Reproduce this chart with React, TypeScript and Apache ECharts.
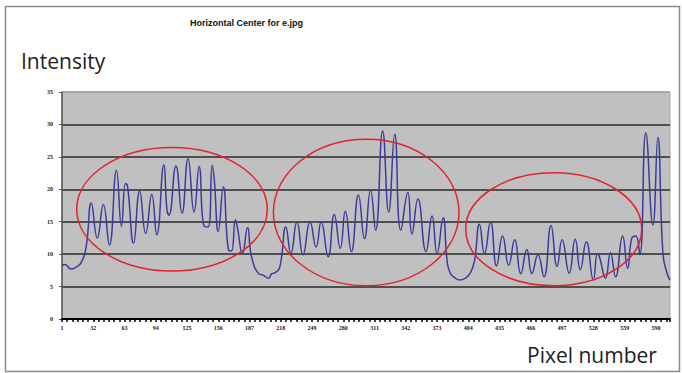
import React, { useEffect, useRef } from 'react';
import * as echarts from 'echarts';

const chartTitle = 'Horizontal Center for e.jpg';
const yAxisTitle = 'Intensity';
const xAxisTitle = 'Pixel number';

const xTickLabels = [1, 32, 63, 94, 125, 156, 187, 218, 249, 280, 311, 342, 373, 404, 435, 466, 497, 528, 559, 590];

const pixelNumbers = [
  1, 4, 10, 15, 20, 25, 30, 36, 42, 48, 55, 60, 64, 66, 72, 78, 84, 90, 95, 102,
  105, 107, 114, 120, 126, 132, 137, 142, 146, 150, 152, 156, 161, 166, 169, 173, 175, 180, 185, 189,
  196, 200, 206, 209, 212, 217, 223, 228, 234, 240, 247, 253, 258, 265, 271, 277, 282, 288, 295, 301,
  307, 312, 319, 325, 331, 337, 344, 348, 354, 362, 368, 373, 379, 383, 386, 391, 396, 401, 406, 410,
  415, 420, 426, 432, 438, 444, 450, 456, 462, 467, 473, 479, 486, 492, 497, 504, 510, 515, 521, 528,
  532, 534, 540, 545, 550, 557, 562, 566, 570, 574, 580, 587, 592, 597, 601, 604,
];

const intensity = [
  8.2, 8.4, 7.7, 8.0, 8.7, 11.2, 17.9, 12.5, 17.6, 11.4, 22.9, 14.3, 20.9, 20.5, 11.7, 19.7, 13.2, 19.2, 13.0, 23.8,
  17.0, 16.0, 23.6, 16.3, 24.7, 16.5, 23.5, 14.3, 14.2, 23.7, 21.5, 13.5, 20.4, 10.7, 10.5, 15.3, 14.0, 10.1, 14.1, 9.6,
  7.0, 6.8, 6.3, 7.0, 7.1, 8.0, 14.2, 10.1, 15.0, 9.9, 15.0, 11.1, 15.0, 9.6, 16.1, 10.9, 16.6, 10.4, 19.1, 12.4,
  19.9, 13.7, 29.0, 16.5, 28.5, 13.7, 19.5, 13.1, 18.5, 10.4, 15.9, 10.1, 15.6, 8.9, 7.1, 6.3, 6.0, 6.3, 7.1, 8.9,
  14.6, 10.1, 15.0, 8.2, 12.8, 8.3, 12.2, 7.0, 10.7, 7.0, 9.9, 6.5, 14.4, 8.1, 12.2, 7.1, 12.3, 7.6, 11.9, 6.0,
  10.1, 9.6, 6.3, 10.2, 6.5, 12.8, 7.8, 12.4, 12.8, 9.9, 28.7, 14.5, 28.0, 10.1, 7.1, 6.0,
];

export default function App() {
  const ref = useRef<HTMLDivElement>(null);

  useEffect(() => {
    if (!ref.current) return;
    const chart = echarts.init(ref.current, null, { renderer: 'svg' });
    const tickStep = xTickLabels[1] - xTickLabels[0];
    chart.setOption({
      animation: false,
      backgroundColor: '#ffffff',
      title: {
        text: chartTitle,
        left: 185,
        top: 13,
        textStyle: { fontFamily: 'Liberation Sans', fontWeight: 'bold', fontSize: 9, color: '#111' },
      },
      grid: {
        left: 62,
        top: 92,
        right: 12,
        bottom: 54,
        show: true,
        backgroundColor: '#c0c0c0',
        borderColor: '#a8a8a8',
        borderWidth: 1,
      },
      xAxis: {
        type: 'value',
        min: 0,
        max: pixelNumbers[pixelNumbers.length - 1] - 1,
        interval: tickStep,
        splitLine: { show: false },
        axisLine: { show: true, lineStyle: { color: '#000', width: 2 } },
        axisTick: { show: true, length: 3, lineStyle: { color: '#000', width: 1.5 } },
        minorTick: { show: true, splitNumber: 6, length: 3, lineStyle: { color: '#000', width: 1.5 } },
        axisLabel: {
          margin: 6,
          fontFamily: 'Liberation Serif',
          fontWeight: 'bold',
          fontSize: 6,
          color: '#222',
          showMaxLabel: false,
          formatter: (v: number) => {
            const i = v / tickStep;
            return Number.isInteger(i) && xTickLabels[i] != null ? String(xTickLabels[i]) : '';
          },
        },
      },
      yAxis: {
        type: 'value',
        min: 0,
        max: 35,
        interval: 5,
        axisLine: { show: true, lineStyle: { color: '#555', width: 1.5 } },
        axisTick: { show: true, length: 3, lineStyle: { color: '#555' } },
        axisLabel: {
          margin: 9,
          fontFamily: 'Liberation Serif',
          fontWeight: 'bold',
          fontSize: 6,
          color: '#222',
        },
        splitLine: {
          show: true,
          lineStyle: {
            color: ['#000', '#4f4f4f', '#4f4f4f', '#4f4f4f', '#4f4f4f', '#4f4f4f', '#4f4f4f', '#a8a8a8'],
            width: 2,
          },
        },
      },
      series: [
        {
          type: 'line',
          data: pixelNumbers.map((p, i) => [p - 1, intensity[i]]),
          smooth: 0.5,
          showSymbol: false,
          lineStyle: { color: '#3b3b9e', width: 1.5 },
        },
      ],
      graphic: [
        {
          type: 'rect',
          shape: { x: 5.5, y: 6.5, width: 674, height: 365 },
          style: { fill: 'none', stroke: '#8a8a8a', lineWidth: 1.5 },
          silent: true,
        },
        {
          type: 'text',
          left: 21,
          top: 50,
          style: { text: yAxisTitle, fontFamily: 'Open Sans', fontSize: 21, fill: '#222' },
        },
        {
          type: 'text',
          left: 527,
          top: 344,
          style: { text: xAxisTitle, fontFamily: 'Open Sans', fontSize: 21, fill: '#222' },
        },
        {
          type: 'ellipse',
          shape: { cx: 172, cy: 209.3, rx: 95.3, ry: 61.7 },
          style: { fill: 'none', stroke: '#e3232a', lineWidth: 1.5 },
          z: 100,
        },
        {
          type: 'ellipse',
          shape: { cx: 366.2, cy: 212.5, rx: 92.8, ry: 73.2 },
          style: { fill: 'none', stroke: '#e3232a', lineWidth: 1.5 },
          z: 100,
        },
        {
          type: 'ellipse',
          shape: { cx: 553.7, cy: 229.2, rx: 88, ry: 56.5 },
          style: { fill: 'none', stroke: '#e3232a', lineWidth: 1.5 },
          z: 100,
        },
      ],
    });
    return () => chart.dispose();
  }, []);

  return (
    <div
      ref={ref}
      style={{ position: 'fixed', left: 0, top: 0, width: 682, height: 373, background: '#fff' }}
    />
  );
}
